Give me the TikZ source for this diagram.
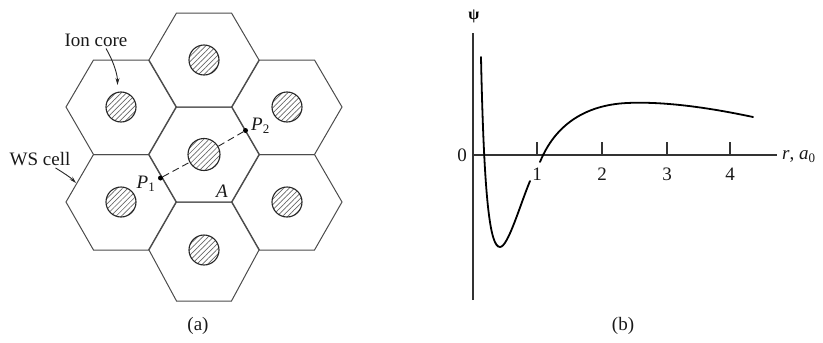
\documentclass[tikz,border=0pt]{standalone}
\usepackage{fontspec}
\setmainfont{Liberation Serif}
\usetikzlibrary{arrows.meta,patterns.meta}
\newcommand\hexcell[4]{%
  \draw[hexline] ({#1-55},{-#3}) -- ({#1-27.5},{-#2}) -- ({#1+27.5},{-#2}) -- ({#1+55},{-#3}) -- ({#1+27.5},{-#4}) -- ({#1-27.5},{-#4}) -- cycle;}
\newcommand\sbx[1]{\raisebox{-0.35ex}{\fontsize{13}{13}\selectfont #1}}
\begin{document}
\begin{tikzpicture}[x=1pt,y=1pt,
  hexline/.style={draw=black!70, line width=1pt, line join=miter},
  core/.style={circle, draw=black!85, line width=1.1pt, inner sep=0pt, minimum size=30pt,
     pattern={Lines[angle=45,distance=3.8pt,line width=0.7pt]}, pattern color=black!60},
  lbl/.style={font=\fontsize{19}{21}\selectfont, inner sep=0pt, text=black!90},
  ptr/.style={draw=black!85, line width=0.9pt, -{Stealth[length=7pt,width=4pt]}},
  dot/.style={circle, fill=black, inner sep=0pt, minimum size=5pt},
  axis/.style={draw=black!80, line width=1.1pt},
  curve/.style={draw=black, line width=1.8pt, line cap=round}]
\useasboundingbox (0,0) rectangle (823,-343);
% ---------- panel (a) ----------
\hexcell{204}{13}{60}{107}
\hexcell{121}{60}{107}{154.5}
\hexcell{287}{60}{107}{154.5}
\hexcell{204}{107}{154.5}{202}
\hexcell{121}{154.5}{202}{250}
\hexcell{287}{154.5}{202}{250}
\hexcell{204}{202}{250}{301}
\node[core] (ctop) at (204,-60) {};
\node[core] (cul) at (121,-107) {};
\node[core] (cur) at (287,-107) {};
\node[core, minimum size=32pt] (cmid) at (204,-154.5) {};
\node[core] (cll) at (121,-202) {};
\node[core] (clr) at (287,-202) {};
\node[core] (cbot) at (204,-250) {};
\node[dot] (P1) at (160.5,-178) {};
\node[dot] (P2) at (245.5,-130.5) {};
\draw[black!85, line width=0.9pt, dash pattern=on 7pt off 4pt] (P1) -- (cmid);
\draw[black!85, line width=0.9pt, dash pattern=on 7pt off 4pt] (cmid) -- (P2);
\node[lbl, anchor=east] (p1lbl) at (155,-184) {\textit{P}\sbx{1}};
\node[lbl, anchor=west] (p2lbl) at (251,-126) {\textit{P}\sbx{2}};
\node[lbl] (Alab) at (222,-191) {\textit{A}};
\node[lbl] (ionlbl) at (96,-40) {Ion core};
\node[lbl] (wslbl) at (40,-159) {WS cell};
\coordinate (ionend) at (117.5,-85);
\coordinate (wsend) at (76,-183);
\draw[ptr] ([xshift=10pt,yshift=-2pt]ionlbl.south) .. controls +(6,-10) and +(0,12) .. (ionend);
\draw[ptr] ([xshift=-15pt,yshift=-2pt]wslbl.south east) .. controls +(8,-5) and +(-6,6) .. (wsend);
\node[lbl] (alab) at (198,-326) {(a)};
% ---------- panel (b) ----------
\coordinate (O) at (473,-155);
\coordinate (ytop) at (473,-33);
\coordinate (ybot) at (473,-300);
\coordinate (xend) at (777,-155);
\draw[axis] (ybot) -- (ytop);
\draw[axis] (O) -- (xend);
\foreach \xx/\nn in {537/1,602/2,667/3,730/4}{
  \draw[axis] (\xx,-155) -- (\xx,-142);
  \node[lbl] (tick\nn) at (\xx,-174) {\nn};
}
\node[lbl] (zero) at (462,-155) {0};
\node[lbl, font=\fontsize{16}{16}\selectfont\bfseries, text=black] (psi) at (474,-16) {ψ};
\node[lbl, anchor=west] (rlbl) at (782,-157) {\textit{r}, \textit{a}\sbx{0}};
\draw[curve] (481,-57) .. controls (484,-200) and (490,-247) .. (500,-247) .. controls (508,-247) and (520,-205) .. (530,-181);
\draw[curve] (540,-162) .. controls (555,-125) and (585,-105) .. (627,-103) .. controls (670,-101) and (720,-110) .. (753,-117);
\node[lbl] (blab) at (623,-326) {(b)};
\end{tikzpicture}
\end{document}
